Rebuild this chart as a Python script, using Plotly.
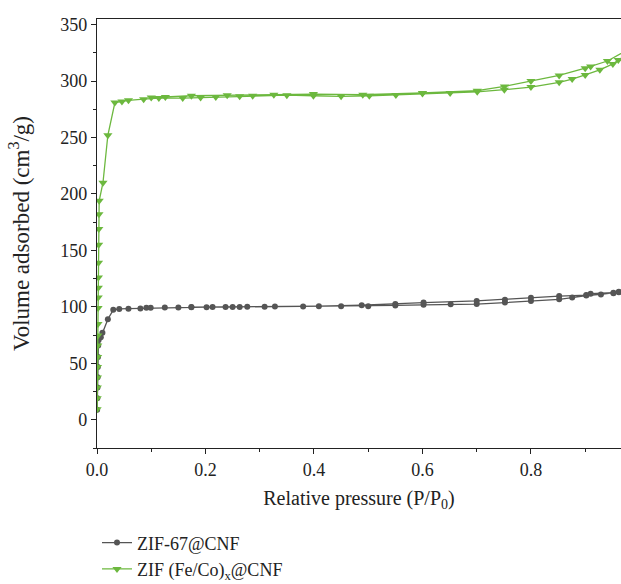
import plotly.graph_objects as go

# ZIF-67@CNF (gray, circles)
zif67_ads_p = [0.0003, 0.0006, 0.0009, 0.0012, 0.0015, 0.0018, 0.0022, 0.0028, 0.007, 0.01, 0.02, 0.03,
               0.041, 0.058, 0.08, 0.091, 0.099, 0.125, 0.15, 0.174, 0.202, 0.237, 0.263, 0.309, 0.38,
               0.45, 0.5, 0.55, 0.602, 0.652, 0.70, 0.752, 0.80, 0.852, 0.876, 0.902, 0.929, 0.952, 0.962, 0.99]
zif67_ads_v = [8.8, 19, 28.7, 37.7, 46.8, 55.5, 65.8, 70.5, 73, 77, 89, 97.4,
               98.2, 98.4, 98.6, 99.2, 99.3, 99.4, 99.5, 99.6, 99.7, 99.8, 99.9, 100.1, 100.3,
               100.6, 100.6, 101.3, 101.8, 102.3, 102.5, 103.8, 105.3, 106.7, 108.2, 110, 111, 112, 113, 115]
zif67_des_p = [0.99, 0.962, 0.952, 0.91, 0.902, 0.852, 0.80, 0.752, 0.70, 0.602, 0.55, 0.488,
               0.409, 0.328, 0.277, 0.25, 0.213, 0.174]
zif67_des_v = [115, 113.3, 112.5, 111.7, 110.5, 109.6, 108, 106.4, 105.3, 103.8, 102.5, 101.5,
               100.6, 100.3, 100.2, 100.0, 99.9, 99.8]

# ZIF (Fe/Co)x@CNF (green, down triangles)
fecox_ads_p = [0.0002, 0.0004, 0.0006, 0.0008, 0.001, 0.0012, 0.0014, 0.0016, 0.0018, 0.002, 0.0022,
               0.0024, 0.0026, 0.0028, 0.003, 0.0033, 0.0036, 0.004, 0.011, 0.020, 0.033, 0.046, 0.058,
               0.086, 0.114, 0.158, 0.191, 0.219, 0.263, 0.287, 0.35, 0.399, 0.45, 0.502, 0.551, 0.6,
               0.651, 0.701, 0.751, 0.80, 0.852, 0.876, 0.90, 0.927, 0.951, 0.961, 0.99]
fecox_ads_v = [9.4, 19, 28.7, 37.4, 46.8, 55.5, 65.8, 74.6, 84.8, 99, 108.2,
               117, 126, 139, 155, 169, 182, 194, 210, 252, 281, 282, 283,
               284, 285, 285, 285.5, 286, 286.5, 287, 287.5, 287, 286.5, 287, 287.7, 289,
               289.5, 290.5, 292.4, 294.7, 298.9, 301.8, 305.5, 310, 315.2, 318.7, 327]
fecox_des_p = [0.99, 0.941, 0.91, 0.90, 0.852, 0.80, 0.751, 0.701, 0.6, 0.49, 0.399, 0.326,
               0.24, 0.174, 0.126, 0.1]
fecox_des_v = [331, 317.8, 312.9, 311.4, 305, 300, 295.3, 291.5, 289.5, 288, 288.5, 288,
               287.5, 287, 286, 285.5]

gray = "#555555"
green = "#6cb83e"

fig = go.Figure()
fig.add_trace(go.Scatter(
    x=zif67_ads_p + zif67_des_p, y=zif67_ads_v + zif67_des_v,
    mode="lines+markers", name="ZIF-67@CNF",
    line=dict(color=gray, width=1.3),
    marker=dict(symbol="circle", size=6, color=gray),
))
fig.add_trace(go.Scatter(
    x=fecox_ads_p + fecox_des_p, y=fecox_ads_v + fecox_des_v,
    mode="lines+markers", name="ZIF (Fe/Co)<sub>x</sub>@CNF",
    line=dict(color=green, width=1.3),
    marker=dict(symbol="triangle-down", size=8, color=green),
))

font = dict(family="Liberation Serif", size=18, color="#222222")
fig.update_layout(
    width=621, height=584,
    margin=dict(l=97, r=0, t=19, b=136, autoexpand=False),
    plot_bgcolor="white", paper_bgcolor="white",
    font=font,
    showlegend=True,
    legend=dict(x=0.0, y=-0.178, xanchor="left", yanchor="top",
                font=dict(family="Liberation Serif", size=18, color="#222222"),
                bgcolor="rgba(0,0,0,0)", tracegroupgap=0, itemwidth=30),
    xaxis=dict(
        range=[0, 0.966], tickvals=[0, 0.2, 0.4, 0.6, 0.8],
        ticktext=["0.0", "0.2", "0.4", "0.6", "0.8"],
        showline=True, linecolor="#222222", linewidth=1.2, mirror=True,
        ticks="outside", ticklen=5, tickcolor="#222222", showgrid=False, zeroline=False,
        minor=dict(tickvals=[0.1, 0.3, 0.5, 0.7, 0.9], ticks="outside", ticklen=3, tickcolor="#222222"),
        title=dict(text="Relative pressure (P/P<sub>0</sub>)", standoff=12, font=dict(size=20)),
        automargin=False,
    ),
    yaxis=dict(
        range=[-25, 355], tickvals=[0, 50, 100, 150, 200, 250, 300, 350],
        showline=True, linecolor="#222222", linewidth=1.2,
        ticks="outside", ticklen=5, tickcolor="#222222", showgrid=False, zeroline=False,
        minor=dict(tickvals=[-25, 25, 75, 125, 175, 225, 275, 325], ticks="outside", ticklen=3, tickcolor="#222222"),
        title=dict(text="Volume adsorbed (cm<sup>3</sup>/g)", standoff=24, font=dict(size=23)),
        automargin=False,
    ),
)
fig.write_html("out.html")
